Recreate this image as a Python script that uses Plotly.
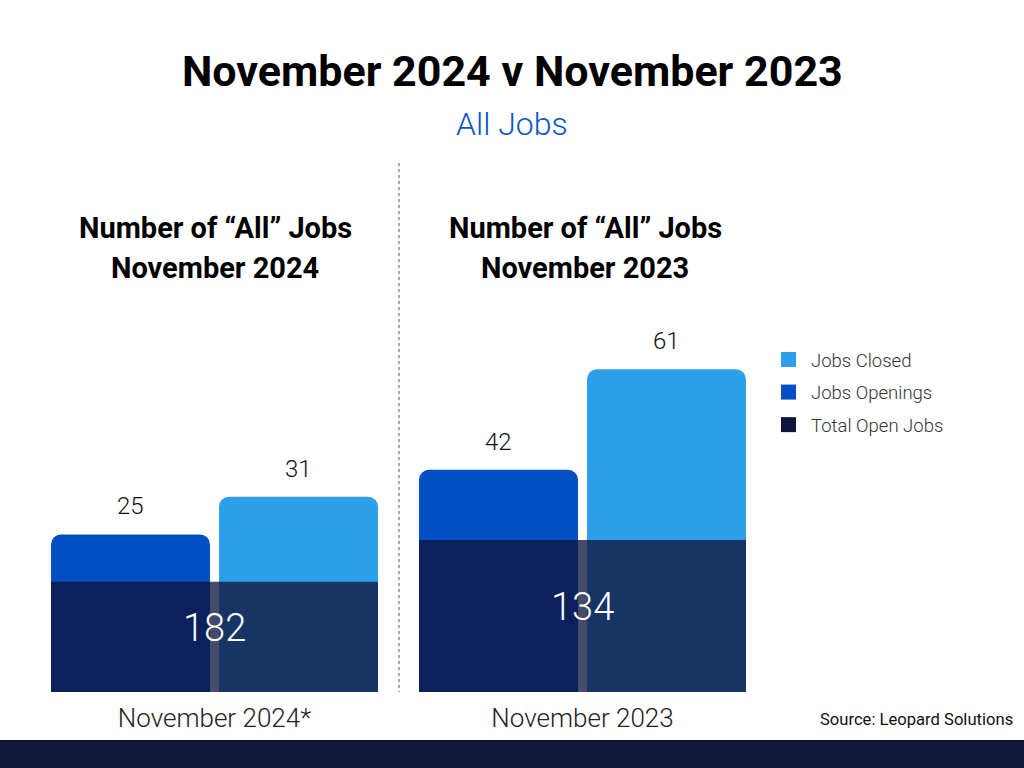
import plotly.graph_objects as go

# ---- data ----
periods = ["November 2024*", "November 2023"]
panel_titles = ["November 2024", "November 2023"]
jobs_openings = [25, 42]
jobs_closed = [31, 61]
total_open_jobs = [182, 134]
legend_names = ["Jobs Closed", "Jobs Openings", "Total Open Jobs"]

C_OPEN = "#0050c3"
C_CLOSED = "#2ea0ea"
C_TOTAL = "#10143c"
C_TOTAL_LEG = "#10153f"
FONT = "Roboto"

W, H = 1024, 768
def px(xp):
    return xp / W
def py(yp):
    return 1 - yp / H

bar_w = 159 / 327
fig = go.Figure()

xa = ["x", "x2"]
ya = ["y", "y2"]
yt = ["y3", "y4"]
for i in range(2):
    fig.add_trace(go.Bar(
        x=[periods[i]], y=[jobs_openings[i]], name="Jobs Openings",
        xaxis=xa[i], yaxis=ya[i], width=[bar_w], offset=[-0.5],
        marker=dict(color=C_OPEN, cornerradius=10, line=dict(width=0)),
        showlegend=False, hoverinfo="skip"))
    fig.add_trace(go.Bar(
        x=[periods[i]], y=[jobs_closed[i]], name="Jobs Closed",
        xaxis=xa[i], yaxis=ya[i], width=[bar_w], offset=[0.5 - bar_w],
        marker=dict(color=C_CLOSED, cornerradius=10, line=dict(width=0)),
        showlegend=False, hoverinfo="skip"))
    fig.add_trace(go.Bar(
        x=[periods[i]], y=[total_open_jobs[i]], name="Total Open Jobs",
        xaxis=xa[i], yaxis=yt[i], width=[1.0], offset=[-0.5],
        marker=dict(color=C_TOTAL, line=dict(width=0)), opacity=0.77,
        showlegend=False, hoverinfo="skip"))

# legend-only entries (square swatches)
for name, col in zip(legend_names, [C_CLOSED, C_OPEN, C_TOTAL_LEG]):
    fig.add_trace(go.Scatter(x=[None], y=[None], mode="markers", name=name,
                             marker=dict(symbol="square", size=15, color=col),
                             legendgroup=name, showlegend=True, hoverinfo="skip"))

ydom = [py(692), py(300)]
axis_common = dict(showgrid=False, zeroline=False, showline=False)
tickfont = dict(size=26, color="#222", family=FONT, weight=300)
fig.update_layout(
    width=W, height=H, margin=dict(l=0, r=0, t=0, b=0),
    paper_bgcolor="white", plot_bgcolor="rgba(0,0,0,0)",
    barmode="overlay",
    font=dict(family=FONT, color="#111"),
    xaxis=dict(domain=[px(51), px(378)], range=[-0.5, 0.5], type="category",
               anchor="y", ticks="outside", ticklen=3, tickcolor="rgba(0,0,0,0)",
               tickfont=tickfont, **axis_common),
    xaxis2=dict(domain=[px(419), px(746)], range=[-0.5, 0.5], type="category",
                anchor="y2", ticks="outside", ticklen=3, tickcolor="rgba(0,0,0,0)",
                tickfont=tickfont, **axis_common),
    yaxis=dict(domain=ydom, range=[0, 62.2], anchor="x", visible=False, **axis_common),
    yaxis2=dict(domain=ydom, range=[0, 74.1], anchor="x2", visible=False, **axis_common),
    yaxis3=dict(range=[0, 646.8], overlaying="y", anchor="x", visible=False, **axis_common),
    yaxis4=dict(range=[0, 345.6], overlaying="y2", anchor="x2", visible=False, **axis_common),
    legend=dict(x=px(766), y=py(341), xanchor="left", yanchor="top",
                font=dict(size=18.5, color="#333", family=FONT, weight=300),
                tracegroupgap=5.5, bgcolor="rgba(0,0,0,0)", itemclick=False,
                itemwidth=35),
    showlegend=True,
)

ann = []
ann.append(dict(text="<b>November 2024 v November 2023</b>", x=0.5, y=py(71),
                xref="paper", yref="paper", showarrow=False, xanchor="center",
                yanchor="middle", font=dict(size=43, color="#000", family=FONT)))
ann.append(dict(text="All Jobs", x=0.5, y=py(124), xref="paper", yref="paper",
                showarrow=False, xanchor="center", yanchor="middle",
                font=dict(size=32, color="#0a56c8", family=FONT, weight=300)))
centers = [px(215), px(585)]
for i in range(2):
    ann.append(dict(text="<b>Number of “All” Jobs</b>", x=centers[i], y=py(228),
                    xref="paper", yref="paper", showarrow=False, xanchor="center",
                    yanchor="middle", font=dict(size=29, color="#000", family=FONT)))
    ann.append(dict(text="<b>%s</b>" % panel_titles[i], x=centers[i], y=py(268),
                    xref="paper", yref="paper", showarrow=False, xanchor="center",
                    yanchor="middle", font=dict(size=29, color="#000", family=FONT)))
    # value labels above bars
    for val, xpos in ((jobs_openings[i], -0.5 + bar_w / 2), (jobs_closed[i], 0.5 - bar_w / 2)):
        ann.append(dict(text=str(val), x=xpos, y=val,
                        xref=xa[i], yref=ya[i], showarrow=False,
                        xanchor="center", yanchor="bottom", yshift=12,
                        font=dict(size=24, color="#111", family=FONT, weight=300)))
    # total label inside overlay bar
    ann.append(dict(text=str(total_open_jobs[i]), x=0, y=total_open_jobs[i] / 2,
                    xref=xa[i], yref=yt[i], showarrow=False, xanchor="center",
                    yanchor="middle", yshift=9,
                    font=dict(size=38, color="white", family=FONT, weight=300)))

ann.append(dict(text="Source: Leopard Solutions", x=px(1015), y=py(719),
                xref="paper", yref="paper", showarrow=False, xanchor="right",
                yanchor="middle", font=dict(size=16.6, color="#111", family=FONT)))
fig.update_layout(annotations=ann)

fig.add_shape(type="line", x0=px(399), x1=px(399), y0=py(163), y1=py(692),
              xref="paper", yref="paper", line=dict(color="#555", width=1, dash="dot"))
fig.add_shape(type="rect", x0=0, x1=1, y0=0, y1=py(740), xref="paper", yref="paper",
              fillcolor="#12163a", line=dict(width=0), layer="above")

fig.write_html("out.html")
